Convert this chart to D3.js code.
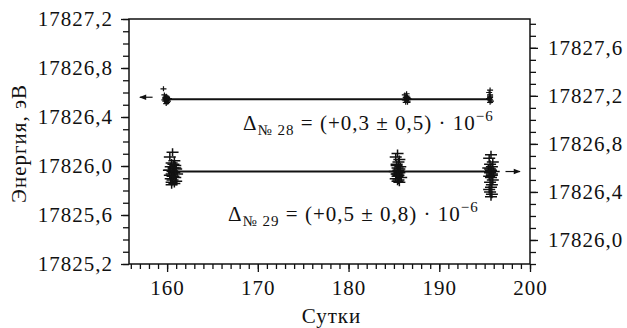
<!DOCTYPE html>
<html>
<head>
<meta charset="utf-8">
<script src="https://cdn.jsdelivr.net/npm/d3@7"></script>
<style>
  html, body { margin: 0; padding: 0; background: #fff; }
  svg text { font-family: "Liberation Serif", "Times New Roman", serif; fill: #111; letter-spacing: 1px; }
</style>
</head>
<body>
<svg id="chart" width="627" height="328" font-family="Liberation Serif"></svg>
<script>
// Measurement days and line energies, satellite No. 28 (left axis)
const days28 = [159.6, 159.7, 159.8, 159.9, 160.0, 159.8, 160.1, 159.9, 160.0, 159.7, 160.2, 159.9, 160.0, 159.8, 160.1, 159.9,
                186.2, 186.3, 186.4, 186.5, 186.3, 186.4, 186.6, 186.2, 186.5, 186.4, 186.3, 186.5,
                195.5, 195.6, 195.6, 195.5, 195.6, 195.7, 195.6, 195.5, 195.6, 195.6];
const energy28 = [17826.63, 17826.58, 17826.56, 17826.55, 17826.54, 17826.53, 17826.55, 17826.57, 17826.52, 17826.54, 17826.55, 17826.51, 17826.56, 17826.55, 17826.53, 17826.54,
                  17826.58, 17826.56, 17826.55, 17826.53, 17826.52, 17826.57, 17826.55, 17826.54, 17826.56, 17826.59, 17826.54, 17826.52,
                  17826.60, 17826.58, 17826.56, 17826.55, 17826.54, 17826.53, 17826.57, 17826.55, 17826.52, 17826.62];
const fit28 = { from: 159.9, to: 195.6, energy: 17826.545 };

// Measurement days and line energies, satellite No. 29 (right axis)
const days29 = [160.6, 160.3, 160.8, 160.5, 160.9, 160.4, 160.7, 161.0, 160.2, 160.6, 160.8, 160.5, 161.1, 160.3, 160.7, 160.9, 160.4, 160.6, 161.0, 160.5, 160.8, 160.3, 160.7, 160.6, 160.9, 160.5,
                185.4, 185.2, 185.6, 185.5, 185.3, 185.7, 185.4, 185.5, 185.1, 185.6, 185.3, 185.5, 185.4, 185.8, 185.2, 185.5, 185.4, 185.6, 185.3, 185.5, 185.4, 185.6,
                195.7, 195.5, 195.9, 195.6, 195.8, 195.4, 195.7, 196.0, 195.6, 195.8, 195.5, 195.7, 195.9, 195.6, 195.8, 195.7, 195.5, 195.6, 195.8, 195.7, 195.6, 195.8];
const energy29 = [17826.73, 17826.69, 17826.66, 17826.64, 17826.62, 17826.61, 17826.60, 17826.59, 17826.58, 17826.57, 17826.56, 17826.55, 17826.55, 17826.54, 17826.53, 17826.52, 17826.51, 17826.50, 17826.49, 17826.48, 17826.47, 17826.58, 17826.63, 17826.53, 17826.60, 17826.46,
                  17826.72, 17826.69, 17826.67, 17826.65, 17826.63, 17826.61, 17826.60, 17826.58, 17826.57, 17826.56, 17826.55, 17826.54, 17826.53, 17826.52, 17826.51, 17826.50, 17826.49, 17826.48, 17826.62, 17826.57, 17826.55, 17826.59,
                  17826.71, 17826.68, 17826.65, 17826.63, 17826.61, 17826.60, 17826.58, 17826.57, 17826.56, 17826.55, 17826.53, 17826.52, 17826.50, 17826.48, 17826.46, 17826.44, 17826.42, 17826.40, 17826.38, 17826.36, 17826.59, 17826.54];
const fit29 = { from: 160.6, to: 195.9, energy: 17826.57 };

// Axis ticks
const xMajor = [160, 170, 180, 190, 200];
const leftMajor = [17825.2, 17825.6, 17826.0, 17826.4, 17826.8, 17827.2];
const rightMajor = [17826.0, 17826.4, 17826.8, 17827.2, 17827.6];

const svg = d3.select("#chart");
const L = 129, R = 530, T = 19, B = 264;

const x = d3.scaleLinear().domain([155.8, 200]).range([L, R]);
const yL = d3.scaleLinear().domain([17825.2, 17827.2]).range([B, T]);
const yR = d3.scaleLinear().domain([17825.8, 17827.84]).range([B, T]);

const ru = d3.formatLocale({ decimal: ",", thousands: "", grouping: [3], currency: ["", ""] });
const fmt = ru.format(".1f");

const range = (a, b, s) => d3.range(Math.round(a / s), Math.round(b / s) + 1).map(k => +(k * s).toFixed(2));

function styleAxis(g) {
  g.attr("font-family", "Liberation Serif");
  g.select(".domain").remove();
  g.selectAll("line").attr("stroke", "#111").attr("stroke-width", 1.3);
  g.selectAll("text").attr("font-size", 21).attr("fill", "#111");
}

// Minor ticks
svg.append("g").attr("transform", `translate(0,${B})`)
  .call(d3.axisBottom(x).tickValues(range(156, 200, 1)).tickSize(5).tickFormat(""))
  .call(styleAxis);
svg.append("g").attr("transform", `translate(${L},0)`)
  .call(d3.axisLeft(yL).tickValues(range(17825.2, 17827.2, 0.1)).tickSize(6).tickFormat(""))
  .call(styleAxis);
svg.append("g").attr("transform", `translate(${R},0)`)
  .call(d3.axisRight(yR).tickValues(range(17825.8, 17827.8, 0.1)).tickSize(6).tickFormat(""))
  .call(styleAxis);

// Major ticks with labels
svg.append("g").attr("transform", `translate(0,${B})`)
  .call(d3.axisBottom(x).tickValues(xMajor).tickSize(8).tickPadding(8).tickFormat(d3.format("d")))
  .call(styleAxis);
svg.append("g").attr("transform", `translate(${L},0)`)
  .call(d3.axisLeft(yL).tickValues(leftMajor).tickSize(8).tickPadding(8).tickFormat(fmt))
  .call(styleAxis);
svg.append("g").attr("transform", `translate(${R},0)`)
  .call(d3.axisRight(yR).tickValues(rightMajor).tickSize(8).tickPadding(10).tickFormat(fmt))
  .call(styleAxis);

// Frame: top, left, right, bottom
svg.append("path")
  .attr("d", `M${L},${B}V${T}H${R}V${B}Z`)
  .attr("fill", "none").attr("stroke", "#111").attr("stroke-width", 1.5);

// Fit lines
const fitLine = (f, y) => svg.append("line")
  .attr("x1", x(f.from)).attr("x2", x(f.to))
  .attr("y1", y(f.energy)).attr("y2", y(f.energy))
  .attr("stroke", "#111").attr("stroke-width", 1.8);
fitLine(fit28, yL);
fitLine(fit29, yR);

// Measurement markers drawn as crosses
function crosses(days, energy, y, hw, hh, sw) {
  const g = svg.append("g").attr("stroke", "#111").attr("stroke-width", sw);
  days.forEach((d, i) => {
    const cx = x(d), cy = y(energy[i]);
    g.append("path").attr("d", `M${cx - hw},${cy}H${cx + hw}M${cx},${cy - hh}V${cy + hh}`);
  });
}
crosses(days28, energy28, yL, 3, 2.5, 1.2);
crosses(days29, energy29, yR, 6, 4, 1.5);

// Arrows pointing to the axis each series belongs to
const defs = svg.append("defs");
defs.append("marker").attr("id", "head").attr("viewBox", "0 0 10 10")
  .attr("refX", 9).attr("refY", 5).attr("markerWidth", 8).attr("markerHeight", 7)
  .attr("orient", "auto-start-reverse").attr("markerUnits", "userSpaceOnUse")
  .append("path").attr("d", "M0,1L10,5L0,9Z").attr("fill", "#111");

svg.append("line")
  .attr("x1", x(158.4)).attr("x2", x(157.0))
  .attr("y1", yL(fit28.energy) - 2).attr("y2", yL(fit28.energy) - 2)
  .attr("stroke", "#111").attr("stroke-width", 1.2).attr("marker-end", "url(#head)");
svg.append("line")
  .attr("x1", x(197.3)).attr("x2", x(198.9))
  .attr("y1", yR(fit29.energy)).attr("y2", yR(fit29.energy))
  .attr("stroke", "#111").attr("stroke-width", 1.2).attr("marker-end", "url(#head)");

// Drift annotations
function drift(xPos, yPos, sat, value) {
  const t = svg.append("text").attr("x", xPos).attr("y", yPos).attr("font-size", 21);
  t.append("tspan").text("Δ");
  t.append("tspan").attr("font-size", 15).attr("dy", 5).text("№ " + sat);
  t.append("tspan").attr("dy", -5).text(" = (" + value + ") · 10");
  t.append("tspan").attr("font-size", 15).attr("dy", -9).text("−6");
}
drift(243, 130, "28", "+0,3 ± 0,5");
drift(228, 221, "29", "+0,5 ± 0,8");

// Axis titles
svg.append("text").attr("x", (L + R) / 2 + 2).attr("y", 323)
  .attr("text-anchor", "middle").attr("font-size", 21).text("Сутки");
svg.append("text").attr("transform", `translate(26,${(T + B) / 2 + 2}) rotate(-90)`)
  .attr("text-anchor", "middle").attr("font-size", 21).text("Энергия, эВ");
</script>
</body>
</html>
